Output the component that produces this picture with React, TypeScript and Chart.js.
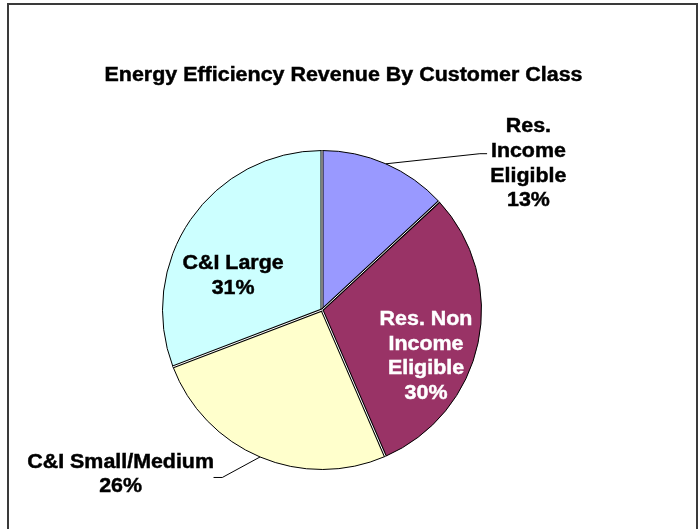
import React, { useEffect, useRef } from "react";
import { Chart, registerables } from "chart.js";

Chart.register(...registerables);

const chartTitle = "Energy Efficiency Revenue By Customer Class";
const categories = ["Res. Income Eligible", "Res. Non Income Eligible", "C&I Small/Medium", "C&I Large"];
const shares = [13.1, 30.4, 25.7, 30.8];
const percentLabels = ["13%", "30%", "26%", "31%"];
const labelLines = [
  ["Res.", "Income", "Eligible"],
  ["Res. Non", "Income", "Eligible"],
  ["C&I Small/Medium"],
  ["C&I Large"],
];
const sliceColors = ["#9999FF", "#993366", "#FFFFCC", "#CCFFFF"];
const labelColors = ["#000000", "#FFFFFF", "#000000", "#000000"];

// label placement, in units of the pie radius relative to the pie centre
const labelLayout = [
  { x: 1.294, y: -1.114, leader: [[0.99, -0.98], [1.035, -0.98]] },
  { x: 0.652, y: 0.094, leader: null },
  { x: -1.2625, y: 0.9875, leader: [[-0.625, 1.05], [-0.68, 1.05]] },
  { x: -0.5575, y: -0.254, leader: null },
];

const FONT_FAMILY = '"Liberation Sans", Arial, Helvetica, sans-serif';
const LABEL_SIZE = 20;
const LABEL_STRETCH = 1.07;
const LINE_HEIGHT = 24.6;
const TITLE_SIZE = 19.5;
const TITLE_STRETCH = 1.1;

function stretchedText(ctx: CanvasRenderingContext2D, text: string, x: number, y: number, stretch: number) {
  ctx.save();
  ctx.translate(x, y);
  ctx.scale(stretch, 1);
  ctx.fillText(text, 0, 0);
  ctx.strokeStyle = ctx.fillStyle as string;
  ctx.lineWidth = 0.45;
  ctx.strokeText(text, 0, 0);
  ctx.restore();
}

const decorPlugin = {
  id: "decor",
  afterDatasetsDraw(chart: any) {
    const meta = chart.getDatasetMeta(0);
    const ctx: CanvasRenderingContext2D = chart.ctx;
    const a0 = meta.data[0];
    const cx = a0.x, cy = a0.y, r = a0.outerRadius;
    ctx.save();
    meta.data.forEach((arc: any) => {
      const ang = arc.startAngle;
      const ex = cx + Math.cos(ang) * r;
      const ey = cy + Math.sin(ang) * r;
      ctx.beginPath();
      ctx.moveTo(cx, cy);
      ctx.lineTo(ex, ey);
      ctx.strokeStyle = "#000";
      ctx.lineWidth = 3;
      ctx.stroke();
      ctx.strokeStyle = "#fff";
      ctx.lineWidth = 1;
      ctx.stroke();
    });
    ctx.restore();
  },
  afterDraw(chart: any) {
    const ctx: CanvasRenderingContext2D = chart.ctx;
    const meta = chart.getDatasetMeta(0);
    const a0 = meta.data[0];
    const cx = a0.x, cy = a0.y, r = a0.outerRadius;
    ctx.save();
    // frame
    ctx.strokeStyle = "#3a3a3a";
    ctx.lineWidth = 2;
    ctx.beginPath();
    ctx.moveTo(8, 540);
    ctx.lineTo(8, 4);
    ctx.lineTo(697, 4);
    ctx.lineTo(697, 540);
    ctx.stroke();

    // title
    ctx.fillStyle = "#000";
    ctx.textAlign = "center";
    ctx.textBaseline = "alphabetic";
    ctx.font = `bold ${TITLE_SIZE}px ${FONT_FAMILY}`;
    stretchedText(ctx, chartTitle, 343.5, 81, TITLE_STRETCH);

    // labels
    ctx.font = `bold ${LABEL_SIZE}px ${FONT_FAMILY}`;
    meta.data.forEach((arc: any, i: number) => {
      const lay = labelLayout[i];
      if (lay.leader) {
        const mid = (arc.startAngle + arc.endAngle) / 2;
        ctx.beginPath();
        ctx.moveTo(cx + Math.cos(mid) * r, cy + Math.sin(mid) * r);
        lay.leader.forEach((p) => ctx.lineTo(cx + p[0] * r, cy + p[1] * r));
        ctx.strokeStyle = "#000";
        ctx.lineWidth = 1;
        ctx.stroke();
      }
      const lines = [...labelLines[i], percentLabels[i]];
      ctx.fillStyle = labelColors[i];
      const x = cx + lay.x * r;
      const y0 = cy + lay.y * r;
      lines.forEach((t, k) => stretchedText(ctx, t, x, y0 + k * LINE_HEIGHT, LABEL_STRETCH));
    });
    ctx.restore();
  },
};

export default function App() {
  const canvasRef = useRef<HTMLCanvasElement | null>(null);
  useEffect(() => {
    const canvas = canvasRef.current;
    if (!canvas) return;
    const chart = new Chart(canvas, {
      type: "pie",
      data: {
        labels: categories,
        datasets: [
          {
            data: shares,
            backgroundColor: sliceColors,
            borderColor: "#000000",
            borderWidth: 1,
          },
        ],
      },
      options: {
        responsive: false,
        animation: false,
        layout: { padding: { left: 162, top: 150, right: 216, bottom: 59 } },
        plugins: {
          legend: { display: false },
          tooltip: { enabled: false },
          title: { display: false },
        },
      },
      plugins: [decorPlugin],
    } as any);
    return () => chart.destroy();
  }, []);
  return (
    <div style={{ position: "fixed", left: 0, top: 0, width: 698, height: 529, background: "#fff" }}>
      <canvas ref={canvasRef} width={698} height={529} style={{ display: "block" }} />
    </div>
  );
}
